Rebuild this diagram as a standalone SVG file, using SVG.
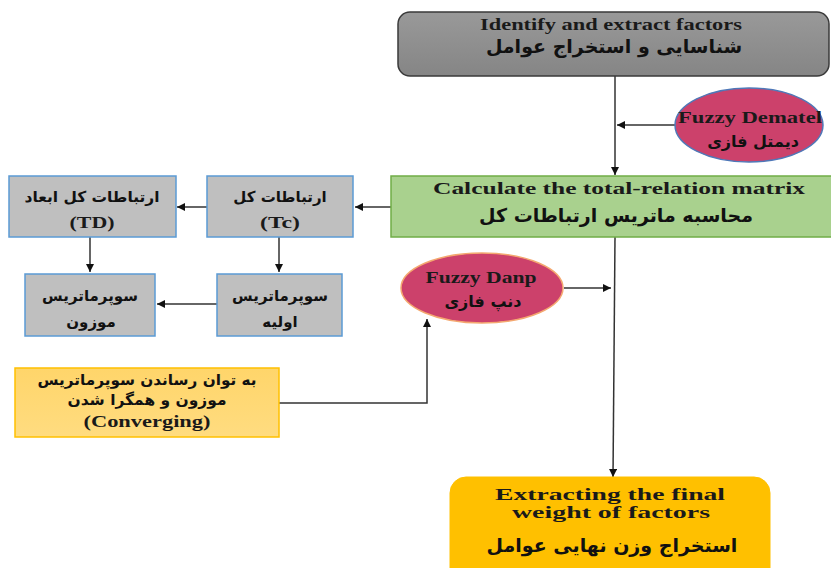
<svg xmlns="http://www.w3.org/2000/svg" width="831" height="568" viewBox="0 0 831 568">
<style>
.en{font-family:"Liberation Serif","Times New Roman",serif;font-weight:bold;fill:#1a1a1a;text-anchor:middle}
.fa{font-family:"DejaVu Sans","Noto Sans",sans-serif;font-weight:bold;fill:#111;text-anchor:middle}
.gbox{fill:#bfbfbf;stroke:#5b9bd5;stroke-width:1.5}
.conn{stroke:#333;stroke-width:1.5;fill:none}
</style>
<defs>
<linearGradient id="gray" x1="0" y1="0" x2="0" y2="1"><stop offset="0" stop-color="#999"/><stop offset="1" stop-color="#858585"/></linearGradient>
<linearGradient id="yel" x1="0" y1="0" x2="0" y2="1"><stop offset="0" stop-color="#ffd56a"/><stop offset="1" stop-color="#ffdc80"/></linearGradient>
<marker id="ah" viewBox="0 0 10 10" refX="10" refY="5" markerWidth="8" markerHeight="8" markerUnits="userSpaceOnUse" orient="auto"><path d="M0,0 L10,5 L0,10 z" fill="#111"/></marker>
</defs>

<g id="connectors">
<line class="conn" x1="615" y1="76" x2="615" y2="175" marker-end="url(#ah)"/>
<line class="conn" x1="675" y1="125" x2="617" y2="125" marker-end="url(#ah)"/>
<line class="conn" x1="391" y1="207" x2="355" y2="207" marker-end="url(#ah)"/>
<line class="conn" x1="207" y1="207" x2="177" y2="207" marker-end="url(#ah)"/>
<line class="conn" x1="90" y1="237" x2="90" y2="272" marker-end="url(#ah)"/>
<line class="conn" x1="279" y1="237" x2="279" y2="272" marker-end="url(#ah)"/>
<line class="conn" x1="217" y1="304" x2="157" y2="304" marker-end="url(#ah)"/>
<line class="conn" x1="564" y1="288" x2="611" y2="288" marker-end="url(#ah)"/>
<polyline class="conn" points="279,403 427,403 427,319" marker-end="url(#ah)"/>
<line class="conn" x1="615" y1="237" x2="613" y2="477" marker-end="url(#ah)"/>
</g>

<g id="identify">
<rect x="398" y="12" width="431" height="64" rx="12" fill="url(#gray)" stroke="#3a3a3a" stroke-width="1.5"/>
<text class="en" x="611" y="30" font-size="16" textLength="262" lengthAdjust="spacingAndGlyphs">Identify and extract factors</text>
<text class="fa" x="614" y="53" font-size="19">شناسایی و استخراج عوامل</text>
</g>

<g id="dematel">
<ellipse cx="749" cy="125" rx="74" ry="37" fill="#cc416b" stroke="#4f78b8" stroke-width="1.5"/>
<text class="en" x="750" y="123" font-size="16" textLength="144" lengthAdjust="spacingAndGlyphs">Fuzzy Dematel</text>
<text class="fa" x="753" y="147" font-size="16">دیمتل فازی</text>
</g>

<g id="total">
<rect x="391" y="176" width="442" height="61" fill="#a9d18e" stroke="#70ad47" stroke-width="1.5"/>
<text class="en" x="619" y="194" font-size="17" textLength="372" lengthAdjust="spacingAndGlyphs">Calculate the total-relation matrix</text>
<text class="fa" x="616" y="222" font-size="19">محاسبه ماتریس ارتباطات کل</text>
</g>

<g id="tc">
<rect class="gbox" x="207" y="176" width="146" height="61"/>
<text class="fa" x="280" y="202" font-size="15">ارتباطات کل</text>
<text class="en" x="280" y="228" font-size="16" font-weight="normal" textLength="40" lengthAdjust="spacingAndGlyphs">(Tc)</text>
</g>

<g id="td">
<rect class="gbox" x="9" y="176" width="167" height="61"/>
<text class="fa" x="92" y="202" font-size="15" textLength="135" lengthAdjust="spacingAndGlyphs">ارتباطات کل ابعاد</text>
<text class="en" x="92" y="228" font-size="16" font-weight="normal" textLength="45" lengthAdjust="spacingAndGlyphs">(TD)</text>
</g>

<g id="weighted">
<rect class="gbox" x="25" y="274" width="130" height="62"/>
<text class="fa" x="90" y="301" font-size="15">سوپرماتریس</text>
<text class="fa" x="91" y="327" font-size="15">موزون</text>
</g>

<g id="initial">
<rect class="gbox" x="217" y="274" width="125" height="62"/>
<text class="fa" x="280" y="301" font-size="15">سوپرماتریس</text>
<text class="fa" x="280" y="327" font-size="15">اولیه</text>
</g>

<g id="danp">
<ellipse cx="482" cy="288" rx="81" ry="35" fill="#cc416b" stroke="#f4a870" stroke-width="1.5"/>
<text class="en" x="481" y="283" font-size="16" textLength="111" lengthAdjust="spacingAndGlyphs">Fuzzy Danp</text>
<text class="fa" x="483" y="307" font-size="16">دنپ فازی</text>
</g>

<g id="converging">
<rect x="15" y="368" width="264" height="69" fill="url(#yel)" stroke="#ffc000" stroke-width="1.5"/>
<text class="fa" x="147" y="385" font-size="15" textLength="219" lengthAdjust="spacingAndGlyphs">به توان رساندن سوپرماتریس</text>
<text class="fa" x="147" y="405" font-size="15" textLength="159" lengthAdjust="spacingAndGlyphs">موزون و همگرا شدن</text>
<text class="en" x="147" y="427" font-size="16" textLength="127" lengthAdjust="spacingAndGlyphs">(Converging)</text>
</g>

<g id="final">
<rect x="450" y="477" width="320" height="110" rx="16" fill="#ffc000" stroke="#ffc000" stroke-width="1"/>
<text class="en" x="610" y="500" font-size="17" textLength="230" lengthAdjust="spacingAndGlyphs">Extracting the final</text>
<text class="en" x="611" y="518" font-size="17" textLength="198" lengthAdjust="spacingAndGlyphs">weight of factors</text>
<text class="fa" x="612" y="552" font-size="19">استخراج وزن نهایی عوامل</text>
</g>
</svg>
